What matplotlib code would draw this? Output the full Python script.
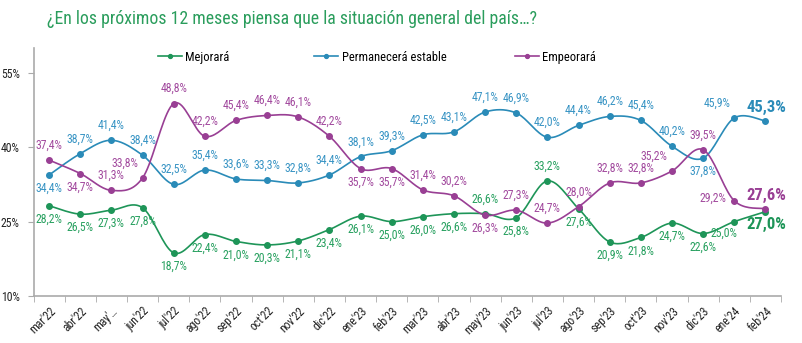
import numpy as np
import matplotlib
matplotlib.use("Agg")
import matplotlib.pyplot as plt
from matplotlib import font_manager

months = ["mar'22", "abr'22", "may'…", "jun'22", "jul'22", "ago'22", "sep'22", "oct'22",
          "nov'22", "dic'22", "ene'23", "feb'23", "mar'23", "abr'23", "may'23", "jun'23",
          "jul'23", "ago'23", "sep'23", "oct'23", "nov'23", "dic'23", "ene'24", "feb'24"]

mejorara = [28.2, 26.5, 27.3, 27.8, 18.7, 22.4, 21.0, 20.3, 21.1, 23.4, 26.1, 25.0,
            26.0, 26.6, 26.6, 25.8, 33.2, 27.6, 20.9, 21.8, 24.7, 22.6, 25.0, 27.0]
permanecera = [34.4, 38.7, 41.4, 38.4, 32.5, 35.4, 33.6, 33.3, 32.8, 34.4, 38.1, 39.3,
               42.5, 43.1, 47.1, 46.9, 42.0, 44.4, 46.2, 45.4, 40.2, 37.8, 45.9, 45.3]
empeorara = [37.4, 34.7, 31.3, 33.8, 48.8, 42.2, 45.4, 46.4, 46.1, 42.2, 35.7, 35.7,
             31.4, 30.2, 26.3, 27.3, 24.7, 28.0, 32.8, 32.8, 35.2, 39.5, 29.2, 27.6]

series_names = ["Mejorará", "Permanecerá estable", "Empeorará"]
yticks = [10, 25, 40, 55]

# label placement codes (a=above, b=below, al=above-left, l=left)
pos_mej = ['b'] * 14 + ['a', 'b', 'a', 'b', 'b', 'b', 'b', 'b', 'bl', 'b']
pos_per = ['b'] + ['a'] * 20 + ['b', 'al', 'a']
pos_emp = ['a', 'b', 'a', 'al', 'a', 'a', 'a', 'a', 'a', 'a', 'b', 'b', 'a', 'a', 'b', 'a',
           'a', 'a', 'a', 'a', 'al', 'a', 'l', 'a']

avail = {f.name for f in font_manager.fontManager.ttflist}
narrow = None
for cand in ["Liberation Sans Narrow", "Roboto Condensed", "Open Sans Condensed", "DejaVu Sans Condensed"]:
    if cand in avail:
        narrow = cand
        break
FAM = [narrow, "DejaVu Sans"] if narrow else ["DejaVu Sans"]
plt.rcParams['font.family'] = FAM

line_colors = ["#1e9558", "#2a8bb8", "#993f94"]
text_colors = ["#27a05f", "#3894c4", "#a24a9e"]


def smooth(x, y, n=20):
    x = np.asarray(x, float)
    y = np.asarray(y, float)
    px = np.concatenate([[x[0]], x, [x[-1]]])
    py = np.concatenate([[y[0]], y, [y[-1]]])
    xs, ys = [], []
    for i in range(1, len(px) - 2):
        p0 = np.array([px[i - 1], py[i - 1]])
        p1 = np.array([px[i], py[i]])
        p2 = np.array([px[i + 1], py[i + 1]])
        p3 = np.array([px[i + 2], py[i + 2]])
        c1 = p1 + (p2 - p0) / 6.0
        c2 = p2 - (p3 - p1) / 6.0
        t = np.linspace(0, 1, n)[:, None]
        b = ((1 - t) ** 3) * p1 + 3 * ((1 - t) ** 2) * t * c1 + 3 * (1 - t) * t ** 2 * c2 + t ** 3 * p2
        xs.append(b[:, 0])
        ys.append(b[:, 1])
    return np.concatenate(xs), np.concatenate(ys)


fig = plt.figure(figsize=(8.02, 3.43), dpi=100)
ax = fig.add_axes([0.0418, 0.137, 0.932, 0.723])

x = np.arange(len(months))
all_series = [mejorara, permanecera, empeorara]
all_pos = [pos_mej, pos_per, pos_emp]
offsets = {'a': (0, 6, 'center', 'bottom'), 'b': (0, -5, 'center', 'top'),
           'al': (-3, 6, 'right', 'bottom'), 'l': (-6, 2, 'right', 'center'),
           'bl': (2, -4, 'right', 'top')}

handles = []
for vals, pos, lc, tc, name in zip(all_series, all_pos, line_colors, text_colors, series_names):
    sx, sy = smooth(x, vals)
    ax.plot(sx, sy, color=lc, lw=1.2, zorder=2)
    ax.plot(x, vals, 'o', color=lc, ms=4, zorder=3)
    h, = ax.plot([], [], '-o', color=lc, lw=1.2, ms=4)
    handles.append(h)
    for i, v in enumerate(vals):
        lab = f"{v:.1f}%".replace('.', ',')
        if i == len(vals) - 1:
            dy = -4 if pos[i] == 'b' else 4
            ax.annotate(lab, (x[i], v), xytext=(1, dy), textcoords='offset points',
                        ha='center', va='top' if pos[i] == 'b' else 'bottom',
                        color=lc, fontsize=12, fontweight='bold', zorder=4)
            continue
        dx, dy, ha, va = offsets[pos[i]]
        ax.annotate(lab, (x[i], v), xytext=(dx, dy), textcoords='offset points',
                    ha=ha, va=va, color=tc, fontsize=8.5, zorder=4)

ax.set_xlim(-0.5, len(months) - 0.5)
ax.set_ylim(10, 60)
ax.set_yticks(yticks)
ax.set_yticklabels([f"{t}%" for t in yticks], fontsize=8.5, color="#222222")
ax.set_xticks(x)
ax.set_xticklabels(months, rotation=45, ha='right', va='top', rotation_mode='anchor',
                   fontsize=8.5, color="#222222")
ax.set_xticks(np.arange(-0.5, len(months) + 0.5, 1), minor=True)
ax.tick_params(axis='x', which='major', length=0, pad=6)
ax.tick_params(axis='x', which='minor', length=4, color="#aaaaaa", direction='out')
ax.tick_params(axis='y', length=4, color="#aaaaaa", direction='out', pad=6)
for s in ['top', 'right']:
    ax.spines[s].set_visible(False)
for s in ['left', 'bottom']:
    ax.spines[s].set_color("#aaaaaa")
    ax.spines[s].set_linewidth(1.2)

fig.text(0.058, 0.945, "¿En los próximos 12 meses piensa que la situación general del país…?",
         fontsize=12.8, color="#2a9d5c", ha='left', va='center')

leg_x = [0.197, 0.392, 0.642]
for hx, h, name in zip(leg_x, handles, series_names):
    fig.legend([h], [name], loc='center left', bbox_to_anchor=(hx, 0.833), frameon=False,
               fontsize=9, handlelength=1.9, handletextpad=0.3, borderaxespad=0,
               borderpad=0, markerscale=0.7)

fig.savefig("out.png", dpi=100)
